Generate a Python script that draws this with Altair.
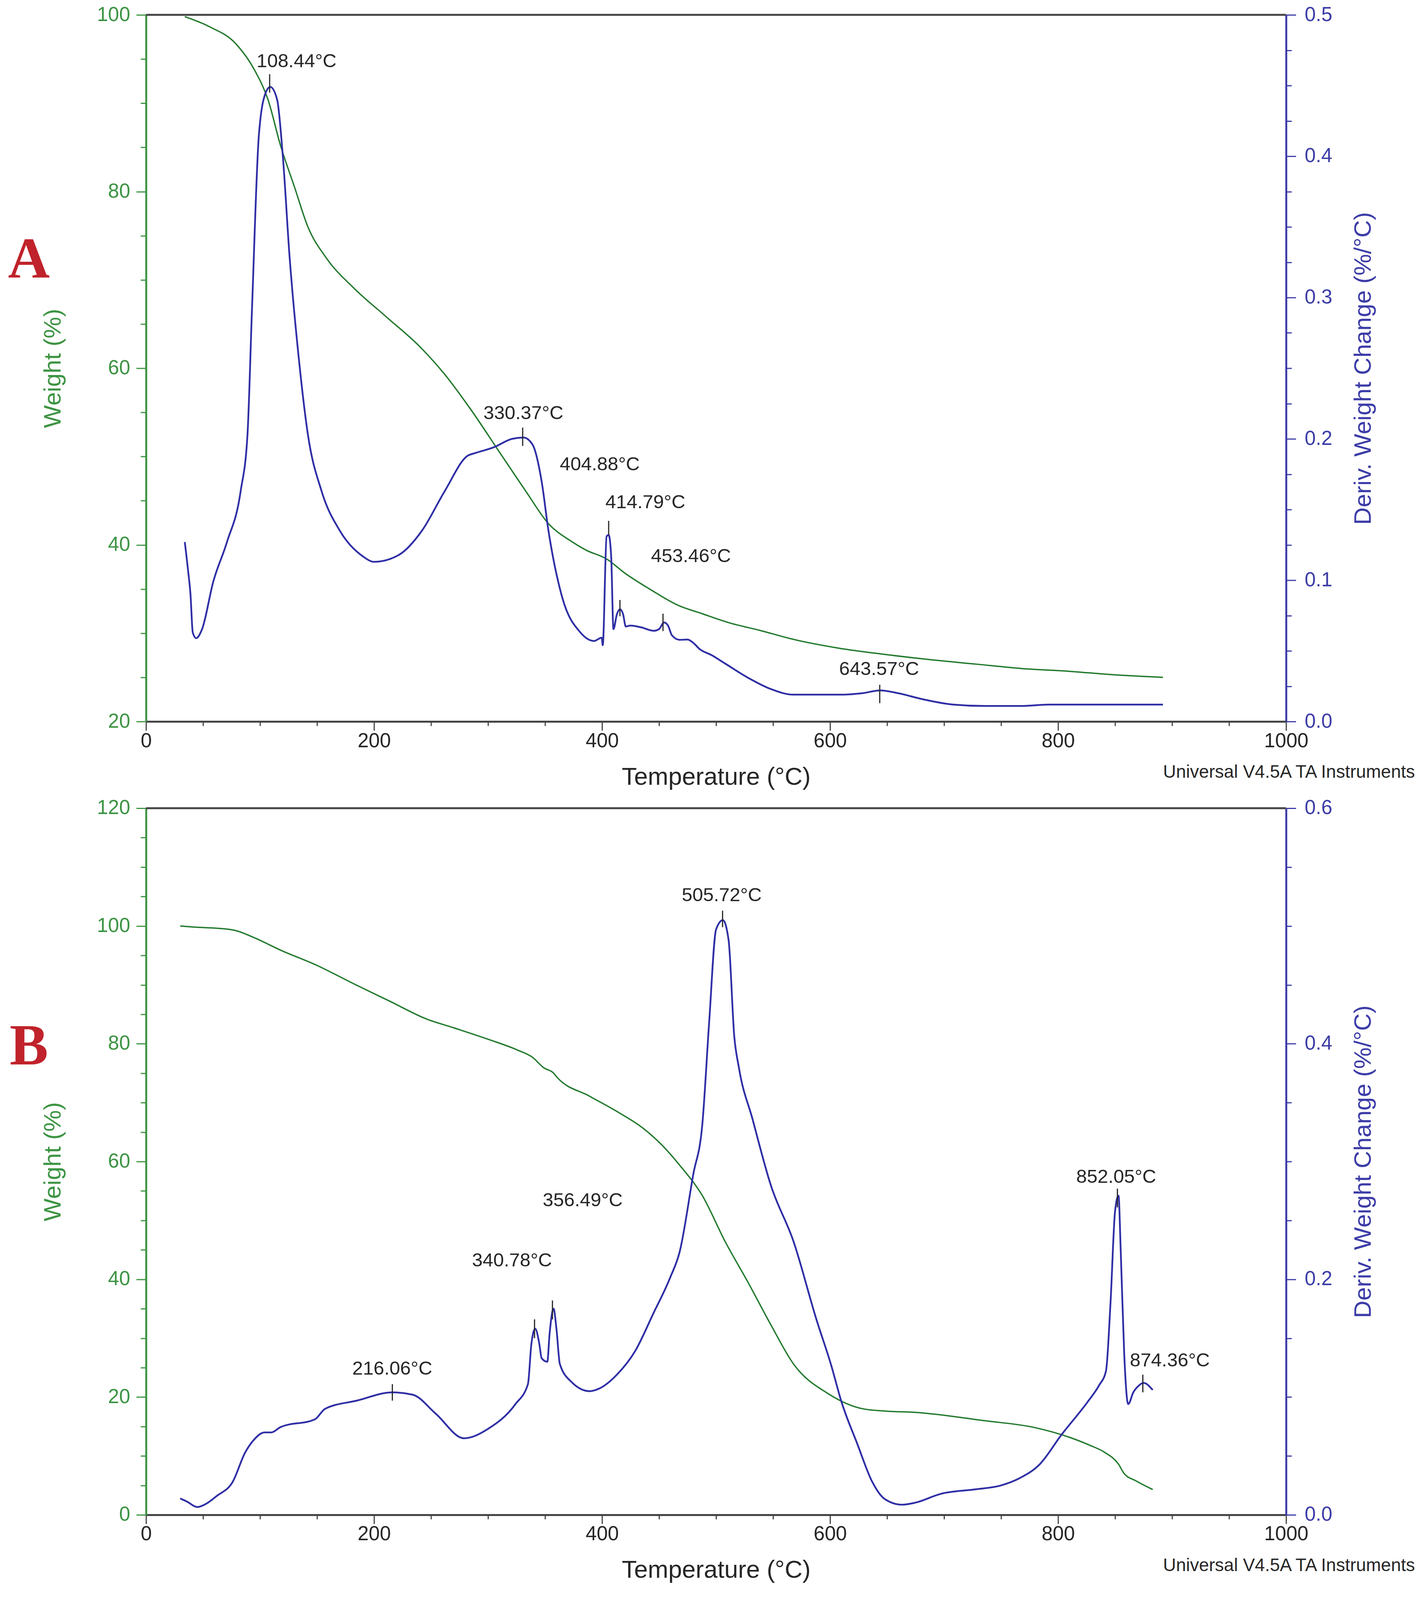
import pandas as pd
import altair as alt

W, H = 2920, 1810
GAP = 222
FONT = "Liberation Sans"
GREEN = "#237a2e"
GREEN_AX = "#3d9443"
BLUE = "#2f2fa6"
BLUE_AX = "#3c3ca8"
INK = "#262626"
RED = "#c0232b"

# ---- panel A ----
a_w_temp = [34, 55, 79, 95, 107, 118, 130, 142, 158, 182, 210, 242, 262, 285, 309, 333, 353,
            373, 386, 404, 420, 443, 466, 488, 511, 539, 568, 608, 648, 688, 728, 768, 808,
            848, 892]
a_weight = [99.8, 98.7, 96.7, 93.8, 90.4, 85.2, 80.6, 76.0, 72.5, 69.1, 65.9, 62.2, 59.3,
            55.3, 50.7, 46.1, 42.4, 40.4, 39.4, 38.4, 36.8, 34.9, 33.2, 32.2, 31.2, 30.3,
            29.3, 28.3, 27.6, 27.0, 26.5, 26.0, 25.7, 25.3, 25.0]
a_d_temp = [34, 37, 39, 41, 44, 49, 59, 71, 83, 89, 93, 99, 105, 109, 115, 120, 126, 134, 142,
            154, 170, 190, 200, 222, 242, 262, 282, 289, 305, 321, 331, 339, 347, 353, 365,
            381, 393, 399.7, 400.6, 404, 405.8, 408, 410, 413, 415.7, 418.5, 420.8, 424.8,
            434, 445.3, 450, 454.5, 458, 461.3, 468, 475, 479.5, 486, 496, 508, 528, 548,
            568, 588, 608, 628, 644, 660, 680, 708, 736, 768, 792, 808, 848, 892]
a_deriv = [0.127, 0.106, 0.090, 0.063, 0.059, 0.065, 0.099, 0.127, 0.163, 0.203, 0.293,
           0.415, 0.445, 0.449, 0.440, 0.400, 0.328, 0.257, 0.203, 0.163, 0.135, 0.117,
           0.113, 0.118, 0.135, 0.163, 0.188, 0.190, 0.194, 0.200, 0.201, 0.196, 0.170,
           0.135, 0.088, 0.063, 0.057, 0.0593, 0.054, 0.131, 0.132, 0.117, 0.0654, 0.0758,
           0.0795, 0.0758, 0.0672, 0.0679, 0.0667, 0.0642, 0.0654, 0.0701, 0.0677, 0.061,
           0.0578, 0.058, 0.056, 0.051, 0.047, 0.041, 0.031, 0.023, 0.019, 0.019, 0.019,
           0.020, 0.022, 0.020, 0.016, 0.012, 0.011, 0.011, 0.012, 0.012, 0.012, 0.012]
a_peak = [108.44, 330.37, 405.8, 415.7, 453.46, 643.57]
a_peak_top = [0.458, 0.208, 0.142, 0.086, 0.0763, 0.026]
a_peak_bot = [0.445, 0.195, 0.132, 0.0745, 0.064, 0.013]
a_label = ["108.44°C", "330.37°C", "404.88°C", "414.79°C", "453.46°C", "643.57°C"]
a_label_x = [132, 331, 398, 438, 478, 643]
a_label_y = [0.467, 0.218, 0.182, 0.155, 0.117, 0.037]

# ---- panel B ----
b_w_temp = [30, 43, 63, 79, 95, 118, 150, 182, 214, 246, 270, 301, 325, 339, 349, 357, 361,
            389, 413, 437, 452, 468, 488, 508, 528, 548, 568, 599, 629, 650, 675, 735, 780,
            811, 828, 841, 853, 858, 868, 883]
b_weight = [100.0, 99.8, 99.6, 99.2, 98.0, 95.9, 93.3, 90.2, 87.2, 84.2, 82.7, 80.7, 79.0,
            77.7, 75.9, 75.1, 74.2, 71.1, 68.5, 65.5, 62.9, 59.4, 54.2, 46.4, 39.5, 32.3,
            25.6, 20.5, 18.0, 17.6, 17.4, 16.0, 14.8, 13.1, 11.8, 10.6, 8.6, 7.0, 5.8, 4.3]
b_d_temp = [30, 36, 45, 52, 62, 76, 87, 94, 104, 110, 118, 148, 157, 185, 216, 234, 254, 279,
            300, 324, 335, 338, 341.4, 345, 347, 352, 354, 357.5, 360, 363, 373, 389, 397,
            413, 429, 445, 460, 468, 480, 488, 494, 500, 506, 511, 516, 520, 532, 548, 568,
            588, 601, 610, 624, 637, 648, 663, 675, 697, 728, 750, 766, 784, 803, 826, 836,
            842, 846, 850, 853, 855, 858, 861.5, 866, 870, 875, 883]
b_deriv = [0.0139, 0.0112, 0.0066, 0.009, 0.016, 0.028, 0.053, 0.063, 0.070, 0.070, 0.0745,
           0.081, 0.090, 0.097, 0.104, 0.102, 0.086, 0.065, 0.073, 0.094, 0.111, 0.145,
           0.158, 0.145, 0.133, 0.130, 0.154, 0.175, 0.158, 0.128, 0.113, 0.105, 0.107,
           0.119, 0.139, 0.171, 0.202, 0.223, 0.289, 0.332, 0.419, 0.497, 0.505, 0.488,
           0.406, 0.380, 0.336, 0.280, 0.232, 0.166, 0.127, 0.096, 0.060, 0.028, 0.0134,
           0.0086, 0.0104, 0.0178, 0.0217, 0.025, 0.031, 0.043, 0.068, 0.096, 0.110, 0.122,
           0.180, 0.258, 0.271, 0.223, 0.137, 0.094, 0.104, 0.109, 0.112, 0.106]
b_peak = [216.06, 340.78, 356.49, 505.72, 852.05, 874.36]
b_peak_top = [0.111, 0.166, 0.182, 0.513, 0.277, 0.119]
b_peak_bot = [0.097, 0.150, 0.166, 0.499, 0.261, 0.104]
b_label = ["216.06°C", "340.78°C", "356.49°C", "505.72°C", "852.05°C", "874.36°C"]
b_label_x = [216, 321, 383, 505, 851, 898]
b_label_y = [0.124, 0.216, 0.267, 0.526, 0.287, 0.131]


def cond(test, major, minor):
    return {"condition": {"test": test, "value": major}, "value": minor}


def x_axis():
    return alt.Axis(
        title="Temperature (°C)", values=list(range(0, 1001, 50)), format="d",
        labelExpr="datum.value % 200 === 0 ? datum.label : ''",
        tickSize=cond("datum.value % 200 === 0", 23, 11),
        grid=False, labelFlush=False, labelOverlap=False, labelFont=FONT, labelFontSize=51,
        labelColor=INK, labelPadding=2, titleFont=FONT, titleFontSize=63,
        titleFontWeight="normal", titleColor=INK, titlePadding=36,
        domainColor="#444444", domainWidth=5, tickColor="#444444", tickWidth=3)


def y_left(lo, hi):
    return alt.Axis(
        title="Weight (%)", orient="left", values=list(range(lo, hi + 1, 5)),
        labelExpr="datum.value % 20 === 0 ? datum.label : ''",
        tickSize=cond("datum.value % 20 === 0", 25, 14),
        grid=False, labelOverlap=False, labelFont=FONT, labelFontSize=51,
        labelColor=GREEN_AX, labelPadding=16, titleFont=FONT, titleFontSize=62,
        titleFontWeight="normal", titleColor=GREEN_AX, titlePadding=80,
        domainColor=GREEN_AX, domainWidth=5, tickColor=GREEN_AX, tickWidth=3)


def y_right(top, step, per_major):
    n = int(round(top / step))
    test = f"round(datum.value * {int(round(1 / step))}) % {per_major} === 0"
    return alt.Axis(
        title="Deriv. Weight Change (%/°C)", orient="right",
        values=[round(i * step, 3) for i in range(n + 1)],
        labelExpr=f"{test} ? format(datum.value, '.1f') : ''",
        tickSize=cond(test, 25, 14),
        grid=False, labelOverlap=False, labelFont=FONT, labelFontSize=51,
        labelColor=BLUE_AX, labelPadding=22, titleFont=FONT, titleFontSize=62,
        titleFontWeight="normal", titleColor=BLUE_AX, titlePadding=50,
        titleAngle=270, titleBaseline="top",
        domainColor=BLUE_AX, domainWidth=5, tickColor=BLUE_AX, tickWidth=3)


def panel(letter, letter_y, w_temp, weight, w_dom, d_temp, deriv, d_top, d_step, d_major,
          peaks, ptop, pbot, labels, lx, ly):
    xs = alt.Scale(domain=[0, 1000], nice=False)
    ws = alt.Scale(domain=w_dom, nice=False, zero=False)
    ds = alt.Scale(domain=[0, d_top], nice=False)

    wdf = pd.DataFrame({"T": w_temp, "W": weight})
    ddf = pd.DataFrame({"T": d_temp, "D": deriv})
    pdf = pd.DataFrame({"T": peaks, "top": ptop, "bot": pbot})
    ldf = pd.DataFrame({"T": lx, "D": ly, "txt": labels})
    one = pd.DataFrame({"txt": [letter]})
    brand = pd.DataFrame({"txt": ["Universal V4.5A TA Instruments"]})

    frame = alt.Chart(one).mark_rule(color="#444444", strokeWidth=5).encode(
        x=alt.value(0), x2=alt.value(W), y=alt.value(0))
    wline = alt.Chart(wdf).mark_line(color=GREEN, strokeWidth=3.5, interpolate="monotone").encode(
        x=alt.X("T:Q", scale=xs, axis=x_axis()),
        y=alt.Y("W:Q", scale=ws, axis=y_left(w_dom[0], w_dom[1])))
    tag = alt.Chart(one).mark_text(
        font="Liberation Serif", fontSize=148, fontWeight="bold", color=RED,
        align="center", baseline="alphabetic").encode(
        x=alt.value(-300), y=alt.value(letter_y), text="txt:N")
    stamp = alt.Chart(brand).mark_text(
        font=FONT, fontSize=46, color=INK, align="right", baseline="middle").encode(
        x=alt.value(3250), y=alt.value(H + 130), text="txt:N")
    left = alt.layer(frame, wline, tag, stamp)

    daxis = y_right(d_top, d_step, d_major)
    dline = alt.Chart(ddf).mark_line(color=BLUE, strokeWidth=4.5, interpolate="monotone").encode(
        x=alt.X("T:Q", scale=xs, axis=x_axis()),
        y=alt.Y("D:Q", scale=ds, axis=daxis))
    ticks = alt.Chart(pdf).mark_rule(color=INK, strokeWidth=3).encode(
        x=alt.X("T:Q", scale=xs, axis=x_axis()),
        y=alt.Y("top:Q", scale=ds, axis=daxis), y2="bot:Q")
    texts = alt.Chart(ldf).mark_text(
        font=FONT, fontSize=49, color=INK, align="center", baseline="middle").encode(
        x=alt.X("T:Q", scale=xs, axis=x_axis()),
        y=alt.Y("D:Q", scale=ds, axis=daxis), text="txt:N")
    right = alt.layer(dline, ticks, texts)

    return alt.layer(left, right).resolve_scale(y="independent").properties(
        width=W, height=H)


top = panel("A", 672, a_w_temp, a_weight, [20, 100], a_d_temp, a_deriv, 0.5, 0.025, 4,
            a_peak, a_peak_top, a_peak_bot, a_label, a_label_x, a_label_y)
bottom = panel("B", 656, b_w_temp, b_weight, [0, 120], b_d_temp, b_deriv, 0.6, 0.05, 4,
               b_peak, b_peak_top, b_peak_bot, b_label, b_label_x, b_label_y)

chart = alt.VConcatChart(
    vconcat=[top, bottom], spacing=GAP, bounds="flush",
    padding={"left": 12, "top": 2, "right": 4, "bottom": 4},
).configure_view(stroke=None).configure(background="white")

chart.save("out.html", embed_options={"renderer": "svg", "actions": False})
